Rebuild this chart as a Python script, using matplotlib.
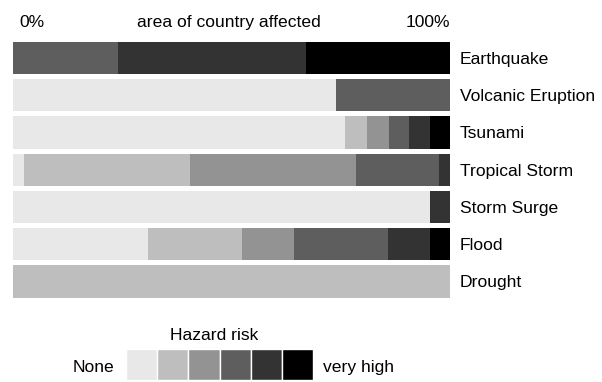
import matplotlib.pyplot as plt

plt.rcParams['font.family'] = ['Liberation Sans', 'DejaVu Sans']

hazards = ['Earthquake', 'Volcanic Eruption', 'Tsunami', 'Tropical Storm',
           'Storm Surge', 'Flood', 'Drought']

# share of country area (%) per risk level
none = [0, 74, 76, 2.5, 95.4, 31, 0]
low = [0, 0, 5, 38, 0, 21.4, 100]
medium = [0, 0, 5, 38, 0, 12, 0]
high = [24, 26, 4.7, 19, 0, 21.3, 0]
higher = [43, 0, 4.8, 2.5, 4.6, 9.7, 0]
very_high = [33, 0, 4.5, 0, 0, 4.6, 0]

levels = [none, low, medium, high, higher, very_high]
level_colors = ['#e8e8e8', '#bebebe', '#939393', '#5e5e5e', '#333333', '#000000']

fs = 12.6

fig = plt.figure(figsize=(6.02, 3.82), dpi=100)

# main stacked bars
ax = fig.add_axes([13 / 602, 0.2144, 437 / 602, 0.6826])
rows = list(range(len(hazards)))
left = [0] * len(hazards)
for vals, col in zip(levels, level_colors):
    ax.barh(rows, vals, left=left, height=0.87, color=col, linewidth=0)
    left = [l + v for l, v in zip(left, vals)]

ax.set_xlim(0, 100)
ax.set_ylim(len(hazards) - 0.5, -0.5)
ax.set_yticks(rows)
ax.set_yticklabels(hazards, fontsize=fs)
ax.yaxis.tick_right()
ax.tick_params(axis='y', length=0, pad=7.2)
ax.set_xticks([])
for s in ax.spines.values():
    s.set_visible(False)

tr = ax.get_xaxis_transform()
ax.text(1.4, 1.0476, '0%', transform=tr, ha='left', va='baseline', fontsize=fs)
ax.text(49.5, 1.0476, 'area of country affected', transform=tr, ha='center',
        va='baseline', fontsize=fs)
ax.text(100, 1.0476, '100%', transform=tr, ha='right', va='baseline', fontsize=fs)

# legend strip
leg = fig.add_axes([126 / 602, 2 / 382, 187 / 602, 31 / 382])
leg.bar(range(len(level_colors)), 1, width=1, color=level_colors,
        edgecolor='white', linewidth=1)
leg.set_xlim(-0.5, len(level_colors) - 0.5)
leg.set_ylim(0, 1)
leg.axis('off')
leg.text(-0.885, 0.258, 'None', ha='right', va='baseline', fontsize=fs)
leg.text(5.82, 0.258, 'very high', ha='left', va='baseline', fontsize=fs)
leg.text(2.32, 1.29, 'Hazard risk', ha='center', va='baseline', fontsize=fs)

fig.savefig('out.png', dpi=100)
